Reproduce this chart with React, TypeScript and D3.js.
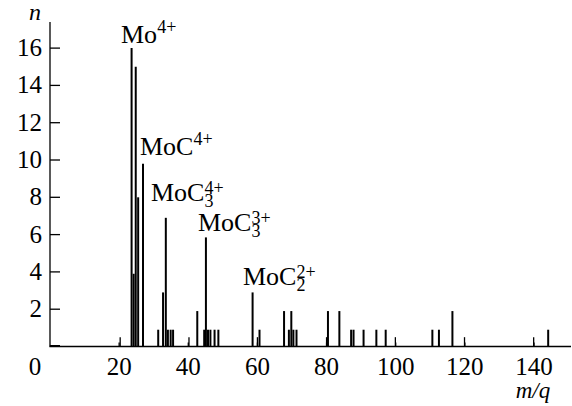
import React from 'react';
import * as d3 from 'd3';

// peak positions (m/q) and heights (n)
const massCharge = [
  20.3, 23.6, 24.2, 24.8, 25.5, 26.9,
  31.3, 32.7, 33.5, 34.1, 34.9, 35.6,
  40.2, 42.6, 44.6, 45.1, 45.7, 46.4, 47.6, 48.7,
  58.6, 60.0, 60.6, 67.7, 69.1, 69.8, 70.4, 71.3,
  80.0, 80.4, 83.7, 87.1, 87.8, 90.7, 94.4, 97.1, 99.9,
  110.6, 112.5, 116.4, 119.9, 139.9, 144.1,
];
const counts = [
  0.5, 16, 3.9, 15, 8, 9.8,
  0.9, 2.9, 6.9, 0.9, 0.9, 0.9,
  0.5, 1.9, 0.9, 5.85, 0.9, 0.9, 0.9, 0.9,
  2.9, 0.5, 0.9, 1.9, 0.9, 1.9, 0.9, 0.9,
  0.5, 1.9, 1.9, 0.9, 0.9, 0.9, 0.9, 0.9, 0.5,
  0.9, 0.9, 1.9, 0.5, 0.5, 0.9,
];
const xTicks = [20, 40, 60, 80, 100, 120, 140];
const yTicks = [2, 4, 6, 8, 10, 12, 14, 16];

// ion labels: base text, subscript, superscript
const ionBase = ['Mo', 'MoC', 'MoC', 'MoC', 'MoC'];
const ionSub = ['', '', '3', '3', '2'];
const ionSup = ['4+', '4+', '4+', '3+', '2+'];
const ionPos = [[121, 43], [140, 155], [151, 201], [198, 231], [243, 285]];

const W = 572;
const H = 406;

export default function App() {
  const x = d3.scaleLinear().domain([0, 150.7]).range([50, 571]);
  const y = d3.scaleLinear().domain([0, 17.4]).range([346.5, 22]);
  const font = 'Liberation Serif, Times New Roman, serif';

  return (
    <svg width={W} height={H} style={{ position: 'absolute', left: 0, top: 0, fontFamily: font }}>
      <rect width={W} height={H} fill="#fff" />
      {/* peaks */}
      {massCharge.map((m, i) => (
        <line
          key={i}
          x1={x(m)}
          x2={x(m)}
          y1={y(0)}
          y2={y(counts[i])}
          stroke="#000"
          strokeWidth={counts[i] < 0.7 ? 1.3 : 2}
        />
      ))}
      {/* axes */}
      <line x1={50} x2={50} y1={y.range()[1]} y2={y(0)} stroke="#000" strokeWidth={1.3} />
      <line x1={49.4} x2={571} y1={y(0)} y2={y(0)} stroke="#000" strokeWidth={1.6} />
      <line x1={50} x2={60} y1={y(0) - 0.5} y2={y(0) - 0.5} stroke="#000" strokeWidth={2} />
      {yTicks.map((t) => (
        <g key={t}>
          <line x1={50} x2={60} y1={y(t)} y2={y(t)} stroke="#000" strokeWidth={1.3} />
          <text x={42} y={y(t) + 8} fontSize={25} textAnchor="end">{t}</text>
        </g>
      ))}
      {xTicks.map((t) => (
        <g key={t}>
          <line x1={x(t)} x2={x(t)} y1={y(0)} y2={y(0) - 4} stroke="#000" strokeWidth={1.3} />
          <text x={x(t)} y={375} fontSize={25} textAnchor="middle">{t}</text>
        </g>
      ))}
      <text x={35} y={375} fontSize={25} textAnchor="middle">0</text>
      <text x={35} y={20} fontSize={24} fontStyle="italic" textAnchor="middle">n</text>
      <text x={533} y={398} fontSize={23} fontStyle="italic" textAnchor="middle">m/q</text>
      {/* ion labels */}
      {ionBase.map((b, i) => {
        const [lx, ly] = ionPos[i];
        return (
          <text key={i} x={lx} y={ly} fontSize={26}>
            {b}
            {ionSub[i] ? (
              <>
                <tspan fontSize={18} dy={6}>{ionSub[i]}</tspan>
                <tspan fontSize={18} dx={-9} dy={-13}>{ionSup[i]}</tspan>
              </>
            ) : (
              <tspan fontSize={18} dy={-10}>{ionSup[i]}</tspan>
            )}
          </text>
        );
      })}
    </svg>
  );
}
